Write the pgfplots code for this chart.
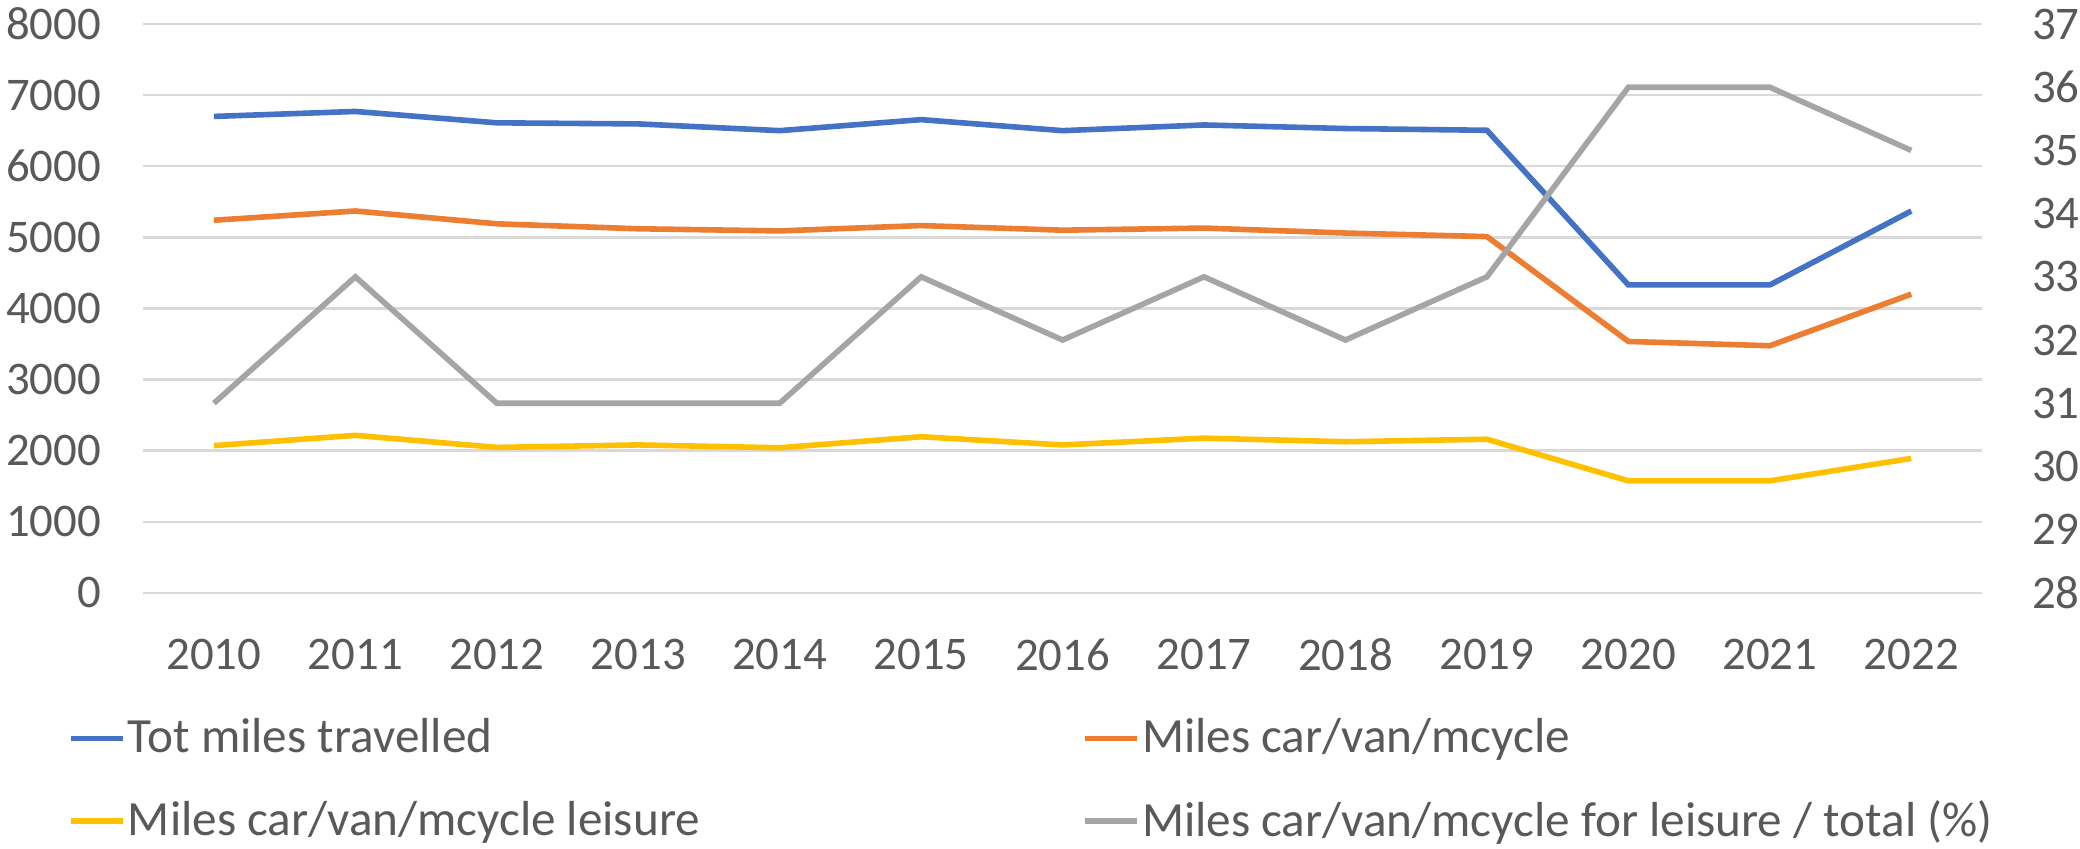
\documentclass[border=0pt]{standalone}
\usepackage{pgfplots}
\pgfplotsset{compat=1.18}
\usepackage{pgfplotstable}
\usepackage{fontspec}
\setmainfont{Carlito}
\definecolor{cBlue}{HTML}{4472C4}
\definecolor{cOrange}{HTML}{ED7D31}
\definecolor{cYellow}{HTML}{FFC000}
\definecolor{cGray}{HTML}{A5A5A5}
\definecolor{cText}{HTML}{595959}
\definecolor{cGrid}{HTML}{D9D9D9}

% year index, total miles, car/van/mcycle, leisure, leisure share (%)
\pgfplotstableread{
x tot car leis pct
0 6700 5240 2070 31
1 6770 5370 2215 33
2 6610 5190 2045 31
3 6595 5120 2080 31
4 6500 5090 2040 31
5 6655 5165 2195 33
6 6500 5100 2080 32
7 6580 5130 2175 33
8 6530 5060 2125 32
9 6505 5010 2160 33
10 4330 3535 1575 36
11 4330 3475 1575 36
12 5370 4200 1890 35
}\data

\begin{document}
\begin{tikzpicture}
\pgfplotsset{
  every axis/.append style={
    width=459.7pt, height=142.2pt, scale only axis,
    at={(0,0)}, anchor=south west,
    xmin=-0.5, xmax=12.5,
    font=\fontsize{11.7}{14}\selectfont,
    tick label style={font=\fontsize{11.7}{14}\selectfont, text=cText},
    /pgf/number format/assume math mode=true,
    /pgf/number format/1000 sep={},
    scaled ticks=false,
    major tick length=0pt,
    axis line style={draw=none},
    clip=false,
  },
}
\begin{axis}[
  ymin=0, ymax=8000,
  ytick={0,1000,...,8000},
  xtick={0,...,12},
  xticklabels={2010,2011,2012,2013,2014,2015,2016,2017,2018,2019,2020,2021,2022},
  xticklabel style={yshift=-8pt},
  yticklabel style={xshift=-7pt},
  ymajorgrids,
  grid style={cGrid, line width=0.6pt},
]
\addplot[cBlue, line width=1.4pt] table[x=x, y=tot] {\data};
\addplot[cOrange, line width=1.4pt] table[x=x, y=car] {\data};
\addplot[cYellow, line width=1.4pt] table[x=x, y=leis] {\data};
\end{axis}
\begin{axis}[
  ymin=28, ymax=37,
  ytick={28,...,37},
  axis y line*=right,
  axis x line=none,
  yticklabel style={xshift=9pt},
  legend columns=2,
  legend cell align=left,
  legend style={
    at={(0,0)}, anchor=north west, xshift=-19pt, yshift=-30.6pt,
    draw=none, fill=none, text=cText,
    font=\fontsize{12.3}{14.8}\selectfont,
    row sep=9.2pt,
    inner sep=0pt,
    nodes={inner sep=0.6pt},
    /tikz/every even column/.append style={column sep=94.9pt},
  },
  legend image code/.code={\draw[#1, line width=1.4pt] (0pt,0pt) -- (13pt,0pt);},
]
\addlegendimage{cBlue}
\addlegendentry{Tot miles travelled}
\addlegendimage{cOrange}
\addlegendentry{Miles car/van/mcycle}
\addlegendimage{cYellow}
\addlegendentry{Miles car/van/mcycle leisure}
\addplot[cGray, line width=1.4pt] table[x=x, y=pct] {\data};
\addlegendentry{Miles car/van/mcycle for leisure / total (\%)}
\end{axis}
\pgfresetboundingbox
\path[use as bounding box] (-35.8pt,-63.8pt) rectangle (484.2pt,148.2pt);
\end{tikzpicture}
\end{document}
